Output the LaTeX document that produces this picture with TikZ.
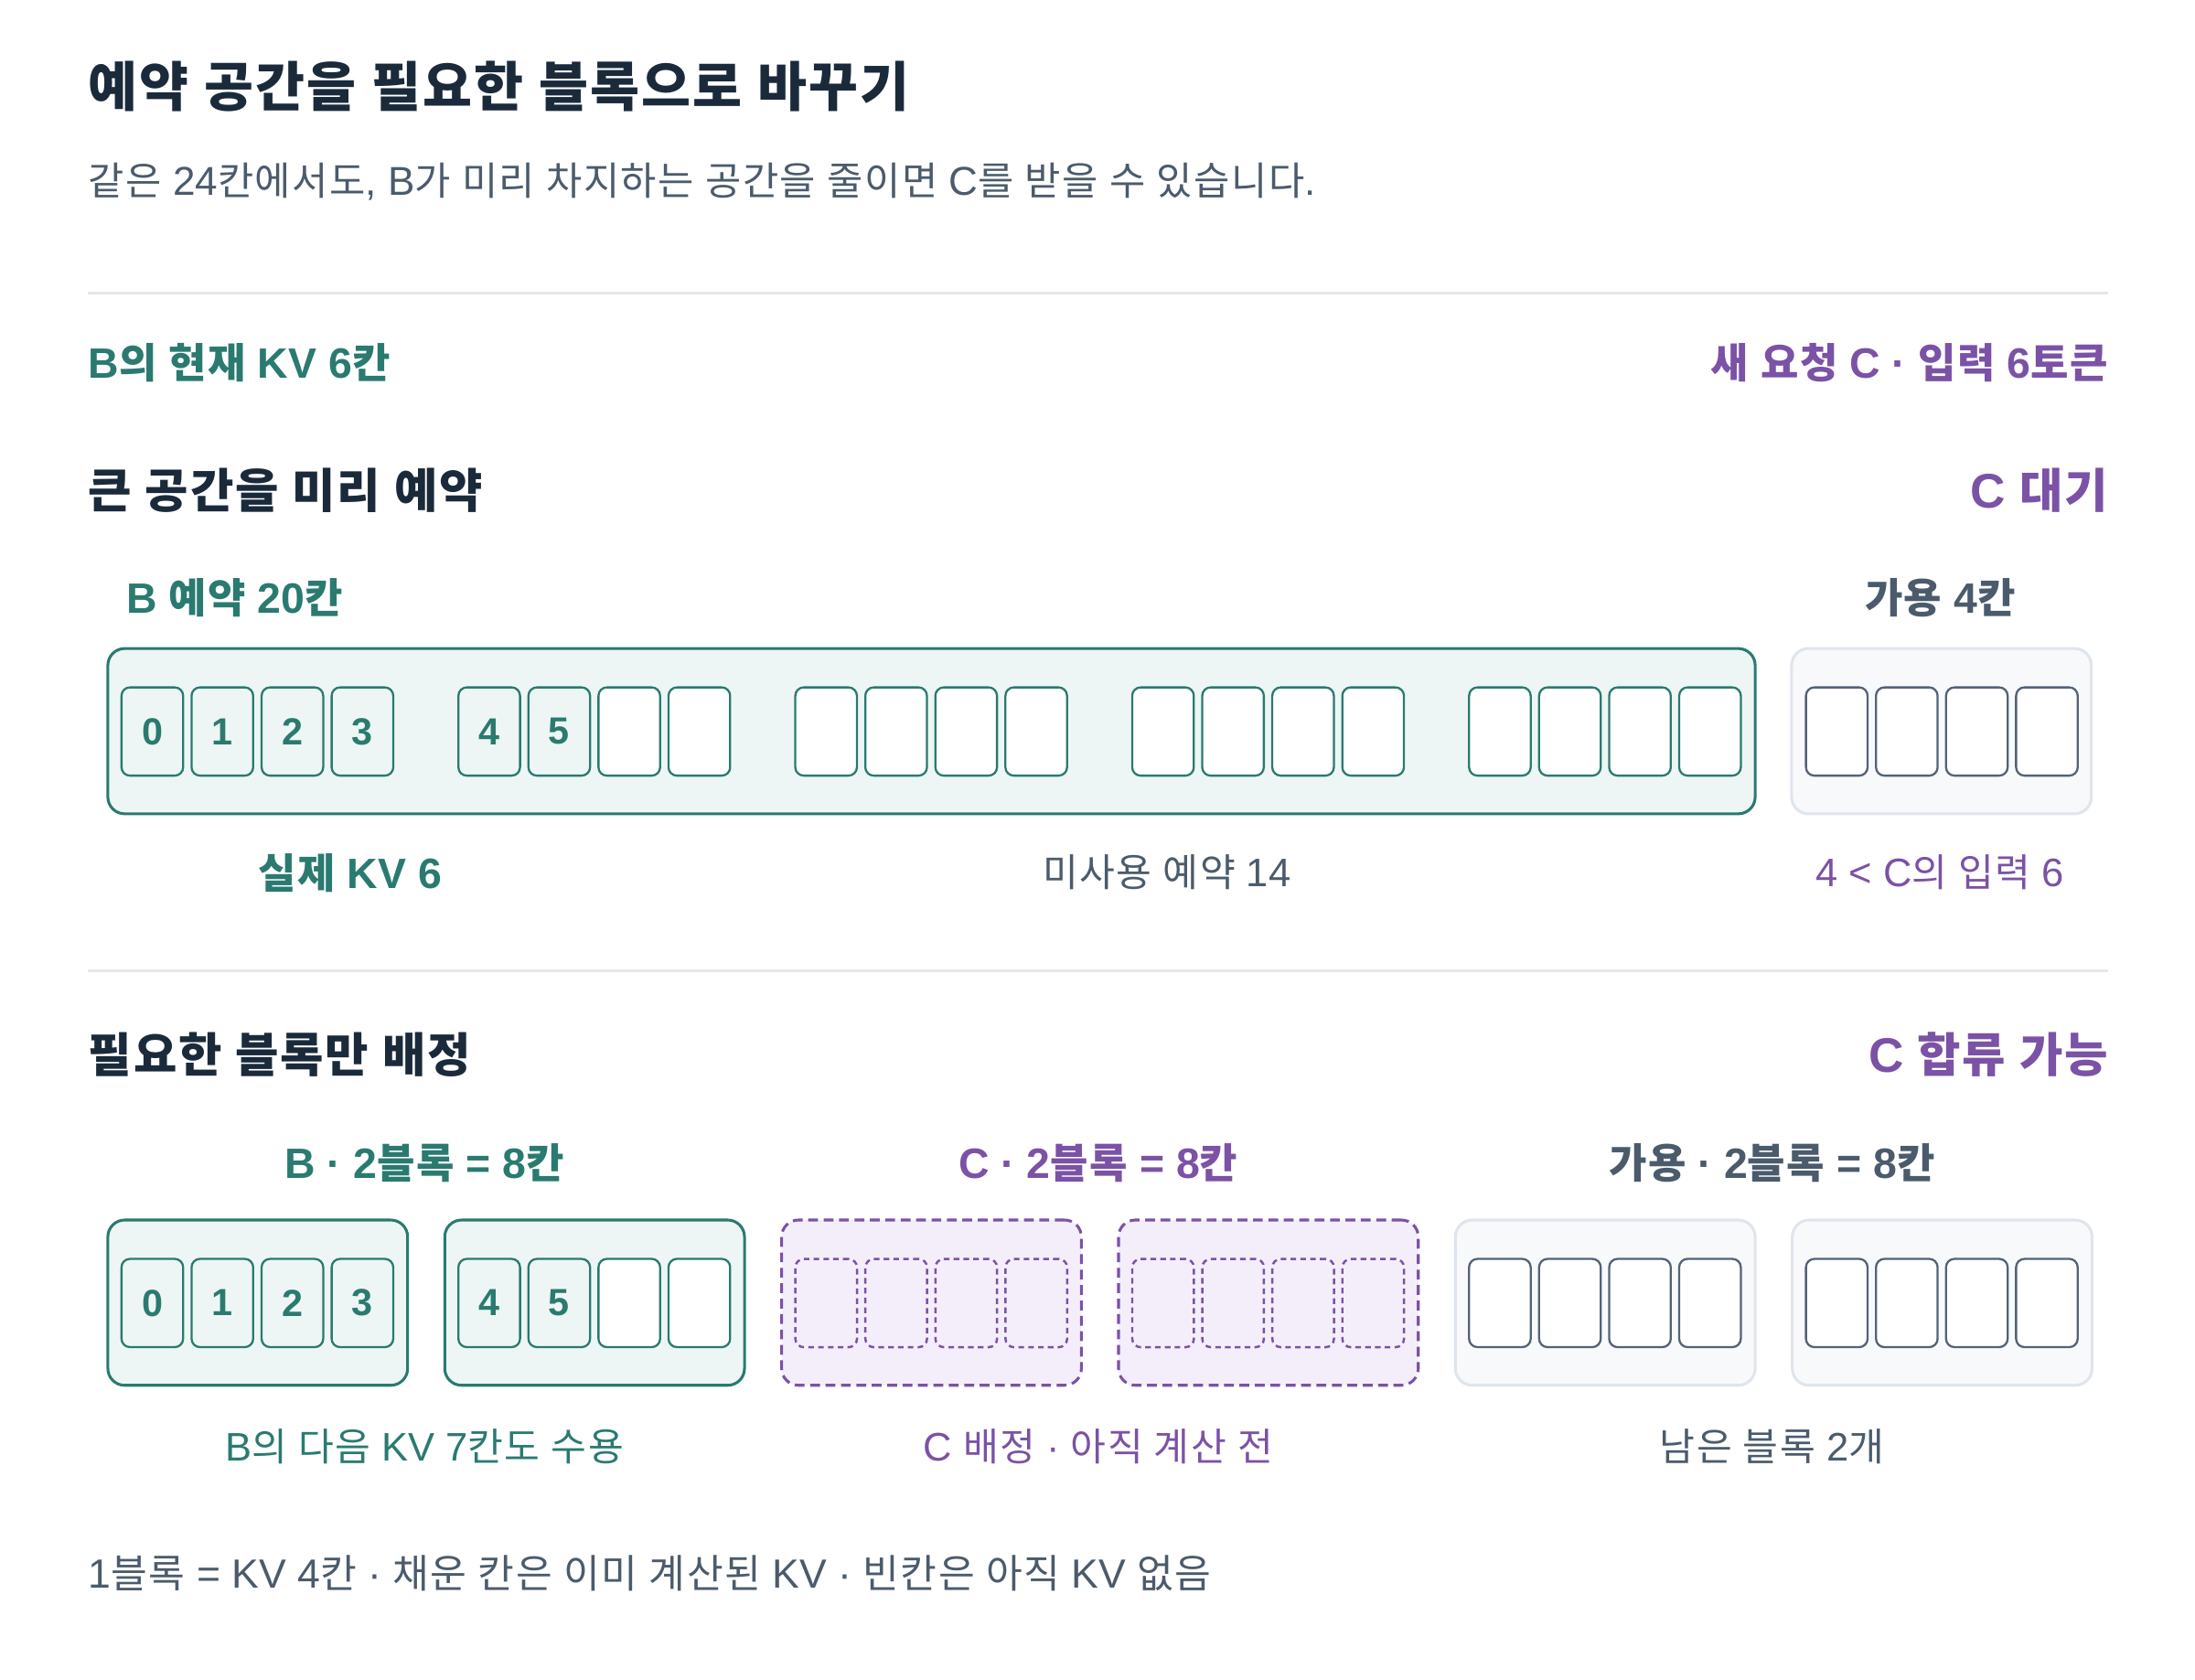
\documentclass[tikz,border=0pt]{standalone}
\usepackage{fontspec}
\setmainfont{Liberation Sans}
\newfontfamily\latinface{Liberation Sans}
\newfontfamily\krface{Noto Sans CJK KR}[Scale=0.97, LetterSpace=3.5]
% hangul syllables switch to the Korean face
\XeTeXinterchartokenstate=1
\newXeTeXintercharclass\HangulChars
\newcount\hangulcode
\hangulcode="AC00
\loop
  \XeTeXcharclass\hangulcode=\HangulChars
  \advance\hangulcode by 1
\ifnum\hangulcode<"D7A4 \repeat
\XeTeXinterchartoks 0 \HangulChars = {\krface}
\XeTeXinterchartoks 4095 \HangulChars = {\krface}
\XeTeXinterchartoks \HangulChars 0 = {\latinface}
\XeTeXinterchartoks \HangulChars 4095 = {\latinface}
\usepackage{tikz}
\usetikzlibrary{math}
\definecolor{InkNavy}{HTML}{1B2A3B}
\definecolor{SlateInk}{HTML}{4B5B6C}
\definecolor{TealInk}{HTML}{2A7A70}
\definecolor{TealWash}{HTML}{EDF6F4}
\definecolor{PurpleInk}{HTML}{7B52A6}
\definecolor{PurpleWash}{HTML}{F3EEFA}
\definecolor{SpareWash}{HTML}{F7F9FB}
\definecolor{SpareEdge}{HTML}{DFE5EC}
\definecolor{SpareCell}{HTML}{536376}
\definecolor{RuleGray}{HTML}{E3E7ED}
\tikzset{%
  title text/.style={font=\bfseries\fontsize{39.5}{46}\selectfont, text=InkNavy, inner sep=0pt},
  lead text/.style={font=\fontsize{28.75}{34}\selectfont, text=SlateInk, inner sep=0pt},
  head text/.style={font=\bfseries\fontsize{34.7}{40}\selectfont, inner sep=0pt},
  tag text/.style={font=\bfseries\fontsize{30.3}{36}\selectfont, inner sep=0pt},
  note text/.style={font=\fontsize{28.4}{34}\selectfont, inner sep=0pt},
  rule line/.style={line width=2pt, color=RuleGray},
  kv cell/.style={draw, rounded corners=6pt, line width=1.5pt, anchor=north west,
    minimum width=44pt, minimum height=63pt, inner sep=0pt,
    font=\bfseries\fontsize{27}{32}\selectfont, text=TealInk},
  kv filled/.style={draw=TealInk, fill=TealWash},
  kv empty/.style={draw=TealInk, fill=white},
  free cell/.style={draw=SpareCell, fill=white},
  claim cell/.style={draw=PurpleInk, fill=PurpleWash, line width=1.6pt, dash pattern=on 4pt off 3pt},
  block box/.style={rounded corners=12pt, line width=2pt, anchor=north west,
    minimum height=118pt, inner sep=0pt},
  usedbox/.style={block box, draw=TealInk, fill=TealWash},
  claimbox/.style={block box, draw=PurpleInk, fill=PurpleWash, dash pattern=on 7pt off 4pt},
  sparebox/.style={block box, draw=SpareEdge, fill=SpareWash}
}

\begin{document}
\begin{tikzpicture}[x=1pt,y=-1pt]
    \tikzmath{
      \gx=240.5; % block pitch
      \cw=50; % cell pitch
      \ox=86; % first cell
    }
    \useasboundingbox (0,0) rectangle (1567,1198.8);
    % header
    \node[title text, anchor=west] (title) at (63,62) {예약 공간을 필요한 블록으로 바꾸기};
    \node[lead text, anchor=west] (lead) at (63,130) {같은 24칸에서도, B가 미리 차지하는 공간을 줄이면 C를 받을 수 있습니다.};
    \draw[rule line] (63,209) -- (1505,209);
    \node[tag text, text=TealInk, anchor=west] (bnow) at (63,259) {B의 현재 KV 6칸};
    \node[tag text, text=PurpleInk, anchor=east] (cnew) at (1505,259) {새 요청 C · 입력 6토큰};
    % reserve up front
    \node[head text, text=InkNavy, anchor=west] (reshead) at (63,350) {큰 공간을 미리 예약};
    \node[head text, text=PurpleInk, anchor=east] (cwait) at (1505,350) {C 대기};
    \node[tag text, text=TealInk, anchor=west] (restag) at (90,427) {B 예약 20칸};
    \node[tag text, text=SlateInk] (freetag) at (1385,427) {가용 4칸};
    \node[usedbox, minimum width=1176pt] (resv) at (76,462) {};
    \node[sparebox, minimum width=214pt] (free) at (1278,462) {};
    \foreach \g in {0,...,4} {
      \foreach \c in {0,...,3} {
        \pgfmathtruncatemacro\n{4*\g+\c}
        \pgfmathsetmacro\cx{\ox+\gx*\g+\cw*\c}
        \ifnum\n<6
          \node[kv cell, kv filled] (rv-\n) at (\cx,490) {\n};
        \else
          \node[kv cell, kv empty] (rv-\n) at (\cx,490) {};
        \fi
      }
    }
    \foreach \c in {0,...,3} {
      \node[kv cell, free cell] (fr-\c) at ({\ox+\gx*5+\cw*\c},490) {};
    }
    \node[tag text, text=TealInk] (realkv) at (250,623) {실제 KV 6};
    \node[note text, text=SlateInk] (unused) at (833,623) {미사용 예약 14};
    \node[note text, text=PurpleInk] (short) at (1385,623) {4 < C의 입력 6};
    \draw[rule line] (63,693) -- (1505,693);
    % blocks on demand
    \node[head text, text=InkNavy, anchor=west] (blkhead) at (63,753) {필요한 블록만 배정};
    \node[head text, text=PurpleInk, anchor=east] (cjoin) at (1505,753) {C 합류 가능};
    \node[tag text, text=TealInk] (btag) at (303,830) {B · 2블록 = 8칸};
    \node[tag text, text=PurpleInk] (ctag) at (784,830) {C · 2블록 = 8칸};
    \node[tag text, text=SlateInk] (stag) at (1265,830) {가용 · 2블록 = 8칸};
    \foreach \k/\kind in {0/usedbox,1/usedbox,2/claimbox,3/claimbox,4/sparebox,5/sparebox} {
      \node[\kind, minimum width=214pt] (blk-\k) at ({76+\gx*\k},870) {};
    }
    \foreach \k in {0,1} {
      \foreach \c in {0,...,3} {
        \pgfmathtruncatemacro\n{4*\k+\c}
        \pgfmathsetmacro\cx{\ox+\gx*\k+\cw*\c}
        \ifnum\n<6
          \node[kv cell, kv filled] (bk-\n) at (\cx,898) {\n};
        \else
          \node[kv cell, kv empty] (bk-\n) at (\cx,898) {};
        \fi
      }
    }
    \foreach \k in {2,3} {
      \foreach \c in {0,...,3} {
        \node[kv cell, claim cell] (ck-\k-\c) at ({\ox+\gx*\k+\cw*\c},898) {};
      }
    }
    \foreach \k in {4,5} {
      \foreach \c in {0,...,3} {
        \node[kv cell, free cell] (sk-\k-\c) at ({\ox+\gx*\k+\cw*\c},898) {};
      }
    }
    \node[note text, text=TealInk] (bnext) at (303,1033) {B의 다음 KV 7칸도 수용};
    \node[note text, text=PurpleInk] (cgot) at (784,1033) {C 배정 · 아직 계산 전};
    \node[note text, text=SlateInk] (left) at (1265,1033) {남은 블록 2개};
    % legend
    \node[note text, font=\fontsize{29.1}{34}\selectfont, text=SlateInk, anchor=west] (legend) at (63,1123) {1블록 = KV 4칸 · 채운 칸은 이미 계산된 KV · 빈칸은 아직 KV 없음};
  \end{tikzpicture}
\end{document}
